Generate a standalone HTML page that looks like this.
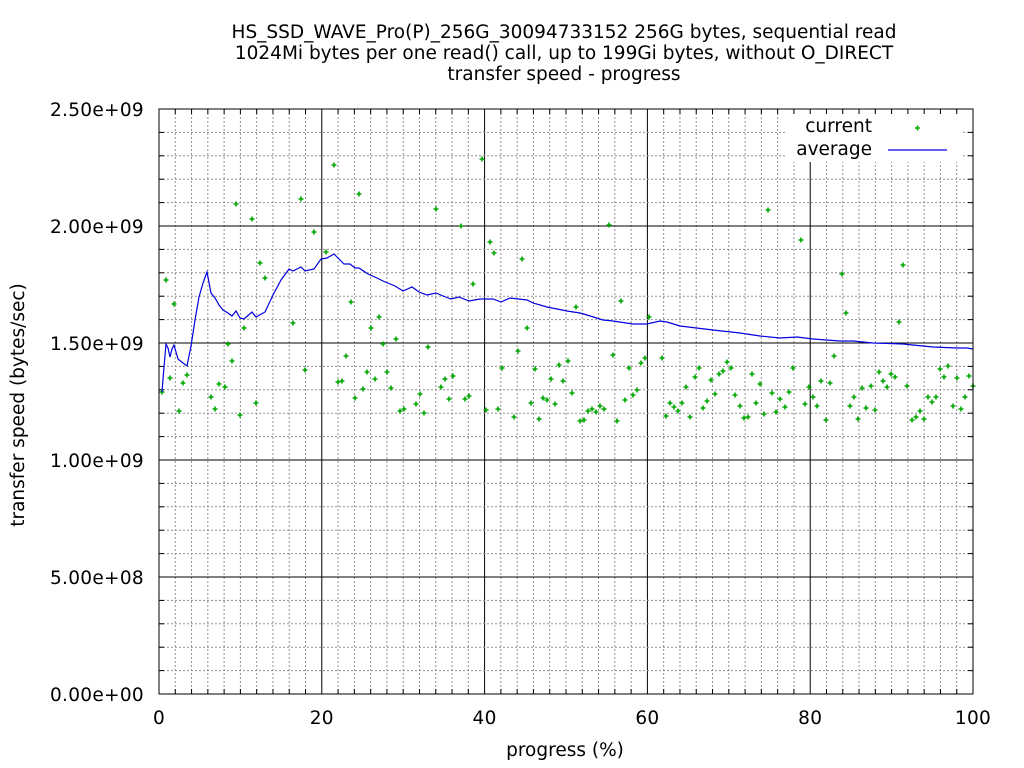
<!DOCTYPE html>
<html><head><meta charset="utf-8"><style>
html,body{margin:0;padding:0;background:#fff}
svg{display:block;font-family:"DejaVu Sans","Liberation Sans",sans-serif}
</style></head><body>
<svg id="s" width="1024" height="768" viewBox="0 0 1024 768" xmlns="http://www.w3.org/2000/svg">
<rect width="1024" height="768" fill="#fff"/>
<g id="grid"></g>
<g font-size="18.5" fill="#000" text-anchor="middle">
<text x="564" y="38">HS_SSD_WAVE_Pro(P)_256G_30094733152 256G bytes, sequential read</text>
<text x="564" y="59">1024Mi bytes per one read() call, up to 199Gi bytes, without O_DIRECT</text>
<text x="564" y="80">transfer speed - progress</text>
<text x="565" y="756">progress (%)</text>
<text transform="translate(24,405) rotate(-90)">transfer speed (bytes/sec)</text>
</g>
<g id="labels" font-size="18.5" fill="#000" letter-spacing="0.3"></g>
<rect x="785" y="114" width="177" height="48" fill="#fff"/>
<text x="872" y="132" font-size="18.5" text-anchor="end">current</text>
<text x="872" y="155" font-size="18.5" text-anchor="end">average</text>
<path d="M915,128h5M917.5,125.5v5" stroke="#00a800" stroke-width="1.6"/>
<line x1="888" y1="150" x2="947" y2="150" stroke="#0000e0" stroke-width="1.2"/>
<g id="pts" stroke="#00a800" stroke-width="1.6"></g>
<polyline id="avg" fill="none" stroke="#0000e0" stroke-width="1.2"/>
<rect x="159" y="109" width="814" height="585" fill="none" stroke="#000" stroke-width="1"/>
</svg>
<script>
var NS="http://www.w3.org/2000/svg";
function el(p,t,a){var e=document.createElementNS(NS,t);for(var k in a)e.setAttribute(k,a[k]);p.appendChild(e);return e;}
var g=document.getElementById('grid'),L=document.getElementById('labels');
var x0=159,x1=973,y0=694,y1=109;
for(var i=1;i<50;i++){var x=x0+(x1-x0)*i/50;
 if(i%10==0)el(g,'line',{x1:x,y1:y1,x2:x,y2:y0,stroke:'#000','stroke-width':1});
 else{el(g,'line',{x1:x,y1:y1,x2:x,y2:y0,stroke:'#909090','stroke-width':1,'stroke-dasharray':'2,2'});
 el(g,'line',{x1:x,y1:y0,x2:x,y2:y0-5,stroke:'#000'});el(g,'line',{x1:x,y1:y1,x2:x,y2:y1+5,stroke:'#000'});}}
for(var i=1;i<25;i++){var y=y0-(y0-y1)*i/25;
 if(i%5==0)el(g,'line',{x1:x0,y1:y,x2:x1,y2:y,stroke:'#000','stroke-width':1});
 else{el(g,'line',{x1:x0,y1:y,x2:x1,y2:y,stroke:'#909090','stroke-width':1,'stroke-dasharray':'2,2'});
 el(g,'line',{x1:x0,y1:y,x2:x0+5,y2:y,stroke:'#000'});el(g,'line',{x1:x1,y1:y,x2:x1-5,y2:y,stroke:'#000'});}}
var yl=['0.00e+00','5.00e+08','1.00e+09','1.50e+09','2.00e+09','2.50e+09'];
for(var i=0;i<6;i++){var t=el(L,'text',{x:144,y:y0-117*i+7,'text-anchor':'end'});t.textContent=yl[i];}
for(var i=0;i<6;i++){var t=el(L,'text',{x:x0+(x1-x0)*i/5,y:724,'text-anchor':'middle'});t.textContent=i*20;}
var P=[162,392,166,280,170,378,174,304,179,411,183,383,187,375,211,397,215,409,219,384,225,387,228,344,232,361,236,204,240,415,244,328,252,219,256,403,260,263,265,278,293,323,301,199,305,370,314,232,326,252,334,165,338,382,342,381,346,356,351,302,355,398,359,194,363,389,367,372,371,328,375,379,379,317,383,344,387,372,391,388,396,339,400,411,404,409,416,404,420,394,424,413,428,347,436,209,441,387,445,379,449,399,453,376,461,226,465,399,469,396,473,284,482,159,486,410,490,242,494,253,498,409,502,368,514,417,518,351,522,259,527,328,531,403,535,369,539,419,543,398,547,400,551,379,555,404,559,365,563,381,568,361,572,393,576,307,580,421,584,420,588,411,592,409,596,412,600,406,604,409,609,225,613,355,617,421,621,301,625,400,629,368,633,395,637,390,641,363,645,358,649,317,662,358,666,416,670,403,674,407,678,411,682,403,686,387,690,417,695,377,699,368,703,408,707,401,711,380,715,394,719,374,723,371,727,362,731,368,735,395,740,406,744,418,748,417,752,374,756,403,760,384,764,414,768,210,772,393,776,412,780,399,785,407,789,392,793,368,801,240,805,404,809,387,813,397,817,406,821,381,826,420,830,383,834,356,842,274,846,313,850,406,854,397,858,419,862,388,866,408,871,386,875,410,879,372,883,381,887,387,891,374,895,377,899,322,903,265,907,386,912,420,916,417,920,411,924,419,928,397,932,402,936,397,940,369,944,377,948,366,953,406,957,378,961,409,965,397,969,376,973,386];
var pg=document.getElementById('pts'),d='';
for(var i=0;i<P.length;i+=2)d+='M'+(P[i]-2.5)+','+P[i+1]+'h5M'+P[i]+','+(P[i+1]-2.5)+'v5';
el(pg,'path',{d:d});
var A=[162,392,164,367,166,344,168,348,170,357,172,349,174,345,178,359,183,363,187,366,191,346,195,320,199,297,203,283,207,272,211,293,215,298,219,305,223,310,228,313,232,316,236,311,240,318,244,319,252,312,256,317,265,312,273,295,281,280,289,269,293,271,301,267,305,271,314,269,321,259,327,258,334,254,338,258,344,264,350,264,355,268,359,268,368,274,377,278,383,281,395,286,403,291,412,287,419,292,427,295,436,293,443,296,451,299,459,297,469,301,480,299,487,299,493,299,501,302,510,298,527,300,533,303,547,307,567,311,580,313,587,315,603,320,613,321,633,324,647,324,660,321,667,322,680,326,713,330,740,333,760,336,780,338,797,337,813,339,840,341,853,341,873,343,903,344,913,345,933,347,957,348,967,348,973,349];
var s='';for(var i=0;i<A.length;i+=2)s+=A[i]+','+A[i+1]+' ';
document.getElementById('avg').setAttribute('points',s);
</script>
</body></html>
